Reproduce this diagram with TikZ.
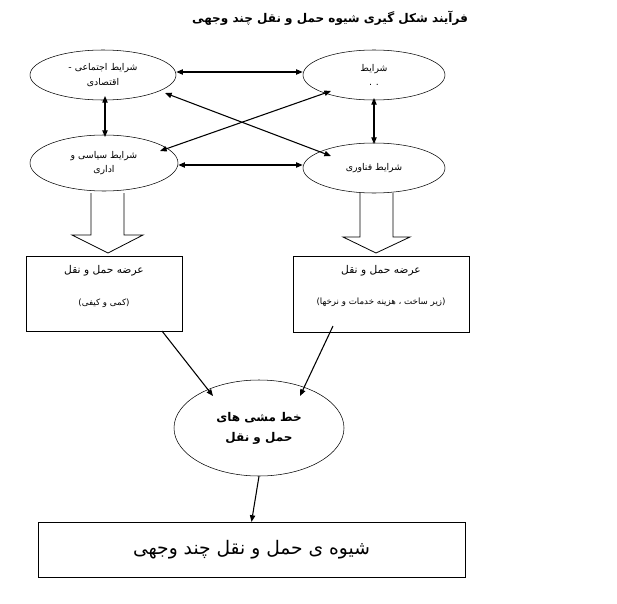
\documentclass[tikz,border=0pt]{standalone}
\usepackage{fontspec}
\setmainfont{DejaVu Sans}
\newfontfamily\arabicfont[Script=Arabic]{DejaVu Sans}
\TeXXeTstate=1
\usetikzlibrary{arrows.meta,shapes.geometric}
\newcommand{\fa}[1]{\arabicfont\beginR #1\endR}
\begin{document}
\begin{tikzpicture}[x=0.75pt,y=-0.75pt,
  ell/.style={draw,ellipse,inner sep=0pt,align=center,font=\fontsize{7}{11}\selectfont},
  rbox/.style={draw,rectangle,inner sep=0pt,align=center},
  dbl/.style={{Triangle[length=5pt,width=4pt]}-{Triangle[length=5pt,width=4pt]},line width=0.8pt},
  sgl/.style={-{Triangle[length=5pt,width=4pt]},line width=0.8pt}]
\useasboundingbox (0,0) rectangle (617,603);
\node[font=\bfseries\fontsize{9}{11}\selectfont] (title) at (330,18) {\fa{فرآیند شکل گیری شیوه حمل و نقل چند وجهی}};
\node[ell,minimum width=146\pgflinewidth*0+109.5pt,minimum height=37.5pt] (e1) at (103,75) {\fa{شرایط اجتماعی -}\\\fa{اقتصادی}};
\node[ell,minimum width=106.5pt,minimum height=37.5pt] (e2) at (374,75) {\fa{شرایط}\\. .};
\node[ell,minimum width=111pt,minimum height=42pt] (e3) at (104,163) {\fa{شرایط سیاسی و}\\\fa{اداری}};
\node[ell,minimum width=106.5pt,minimum height=37.5pt] (e4) at (374,168) {\fa{شرایط فناوری}};
\draw[dbl] (e1.east |- 0,72) -- (e2.west |- 0,72);
\draw[dbl] (e3.east |- 0,165) -- (e4.west |- 0,165);
\draw[dbl] (105,96) -- (105,137);
\draw[dbl] (374,98) -- (374,144);
\draw[dbl] (165,93) -- (331,156);
\draw[dbl] (160,151) -- (331,91);
% block arrows
\draw[line width=0.6pt] (91,193) -- (91,235) -- (72,235) -- (108,253) -- (143,235) -- (124,235) -- (124,193);
\draw[line width=0.6pt] (360,193) -- (360,237) -- (343,237) -- (376,253) -- (410,237) -- (393,237) -- (393,193);
\node[rbox,minimum width=117pt,minimum height=56pt] (b1) at (104,293.5) {};
\node[font=\fontsize{8}{10}\selectfont] (b1t) at (104,271) {\fa{عرضه حمل و نقل}};
\node[font=\fontsize{6.5}{8}\selectfont] (b1s) at (104,303) {\fa{(کمی و کیفی)}};
\node[rbox,minimum width=132pt,minimum height=57pt] (b2) at (381,294) {};
\node[font=\fontsize{8}{10}\selectfont] (b2t) at (381,271) {\fa{عرضه حمل و نقل}};
\node[font=\fontsize{6.5}{8}\selectfont] (b2s) at (381,302) {\fa{(زیر ساخت ، هزینه خدمات و نرخها)}};
\node[ell,minimum width=127.5pt,minimum height=72pt,font=\bfseries\fontsize{9}{15}\selectfont] (e5) at (259,428) {\fa{خط مشی های}\\\fa{حمل و نقل}};
\draw[sgl] (162,331) -- (213,396);
\draw[sgl] (333,326) -- (300,396);
\node[rbox,minimum width=320pt,minimum height=41pt,font=\fontsize{14}{16}\selectfont] (b3) at (251.5,549.5) {\fa{شیوه ی حمل و نقل چند وجهی}};
\draw[sgl] (e5.south) -- (b3.north);
\end{tikzpicture}
\end{document}
